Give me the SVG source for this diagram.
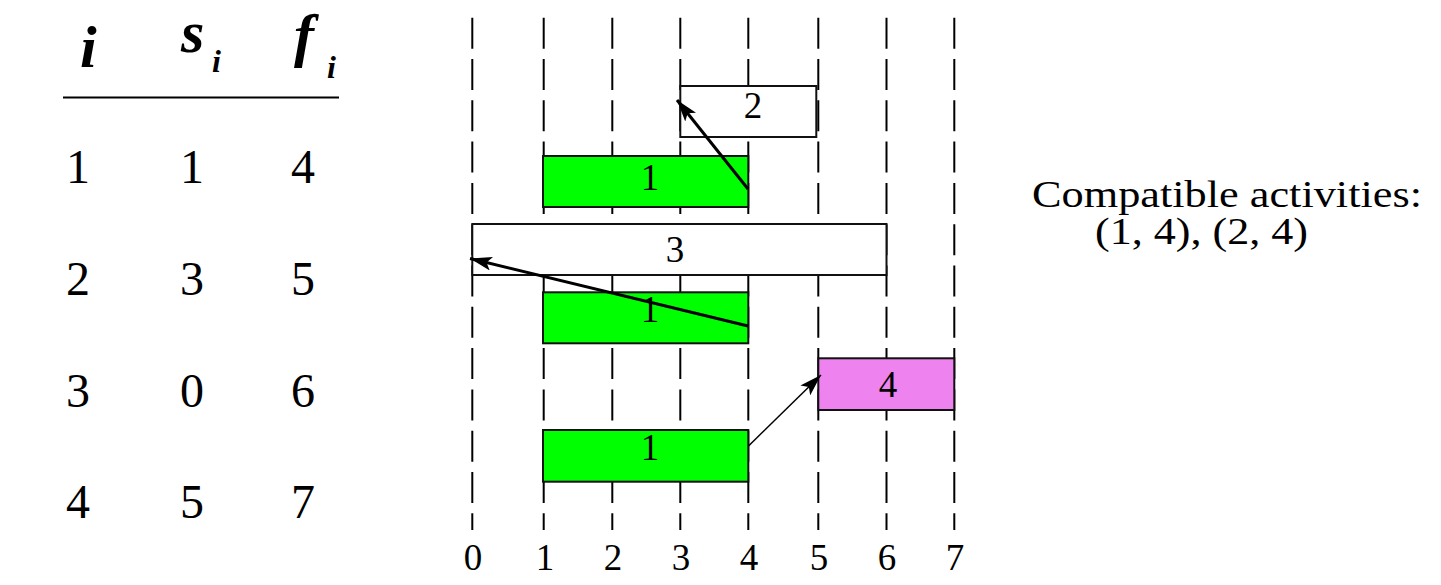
<svg xmlns="http://www.w3.org/2000/svg" width="1441" height="585" viewBox="0 0 1441 585" font-family="'Liberation Serif', 'DejaVu Serif', 'Noto Serif', serif">
<style>
text{font-family:"Liberation Serif","DejaVu Serif","Noto Serif",serif;fill:#000}
.hd{font-weight:bold;font-style:italic}
.sub{font-style:italic;font-weight:bold;font-size:32px}
.num{font-size:48px}
.lbl{font-size:37px;text-anchor:middle}
.grid{stroke:#000;stroke-width:2;stroke-dasharray:31 10.3}
.box{stroke:#111;stroke-width:2}
.g{fill:#00ff00}
.w{fill:#fff}
.v{fill:#ee82ee}
.arr{stroke:#000;fill:none}
</style>
<defs>
<marker id="ah" markerUnits="userSpaceOnUse" markerWidth="24" markerHeight="14" refX="22" refY="7" orient="auto">
<path d="M0,0 L22,7 L0,14 L5,7 Z" fill="#000"/>
</marker>
</defs>
<rect width="1441" height="585" fill="#fff"/>
<g id="table">
<text class="hd" x="80" y="67" font-size="60">i</text>
<text class="hd" x="181" y="52" font-size="60">s</text>
<text class="sub" x="212" y="72">i</text>
<text class="hd" x="294" y="55" font-size="60">f</text>
<text class="sub" x="327" y="78">i</text>
<line x1="63" y1="97.5" x2="339" y2="97.5" stroke="#000" stroke-width="2"/>
<g class="num" text-anchor="middle">
<text x="78" y="183">1</text><text x="192" y="183">1</text><text x="303" y="183">4</text>
<text x="78" y="295">2</text><text x="192" y="295">3</text><text x="303" y="295">5</text>
<text x="78" y="407">3</text><text x="192" y="407">0</text><text x="303" y="407">6</text>
<text x="78" y="518">4</text><text x="192" y="518">5</text><text x="303" y="518">7</text>
</g>
</g>
<g id="gridlines">
<line class="grid" x1="472.3" y1="17.7" x2="472.3" y2="530"/>
<line class="grid" x1="543.7" y1="17.7" x2="543.7" y2="530"/>
<line class="grid" x1="612.3" y1="17.7" x2="612.3" y2="530"/>
<line class="grid" x1="680.3" y1="17.7" x2="680.3" y2="530"/>
<line class="grid" x1="748.3" y1="17.7" x2="748.3" y2="530"/>
<line class="grid" x1="818.3" y1="17.7" x2="818.3" y2="530"/>
<line class="grid" x1="886.5" y1="17.7" x2="886.5" y2="530"/>
<line class="grid" x1="954.3" y1="17.7" x2="954.3" y2="530"/>
</g>
<g id="axis" class="lbl">
<text x="473" y="570">0</text>
<text x="545" y="570">1</text>
<text x="613" y="570">2</text>
<text x="681" y="570">3</text>
<text x="749" y="570">4</text>
<text x="819" y="570">5</text>
<text x="887" y="570">6</text>
<text x="955" y="570">7</text>
</g>
<g id="act2"><rect class="box w" x="680.3" y="86" width="136" height="51"/><text class="lbl" x="753" y="118">2</text></g>
<g id="act1a"><rect class="box g" x="543" y="156" width="205.3" height="51"/><text class="lbl" x="650" y="190">1</text></g>
<g id="act3"><rect class="box w" x="472.3" y="224" width="414.2" height="51"/><text class="lbl" x="675" y="262">3</text></g>
<g id="act1b"><rect class="box g" x="543" y="292.3" width="205.3" height="51"/><text class="lbl" x="650" y="322">1</text></g>
<g id="act4"><rect class="box v" x="818.3" y="358.3" width="136" height="51.7"/><text class="lbl" x="888" y="397">4</text></g>
<g id="act1c"><rect class="box g" x="543" y="430" width="205.3" height="51.7"/><text class="lbl" x="650" y="460">1</text></g>
<g id="connectors">
<line class="arr" x1="748" y1="189" x2="677" y2="100" stroke-width="3" marker-end="url(#ah)"/>
<line class="arr" x1="748" y1="326" x2="470" y2="258.5" stroke-width="3" marker-end="url(#ah)"/>
<line class="arr" x1="748.5" y1="446" x2="821" y2="375" stroke-width="1.5" marker-end="url(#ah)"/>
</g>
<g id="note">
<text x="1032" y="207" font-size="37" textLength="390" lengthAdjust="spacingAndGlyphs">Compatible activities:</text>
<text x="1095" y="244" font-size="37" textLength="213" lengthAdjust="spacingAndGlyphs">(1, 4), (2, 4)</text>
</g>
</svg>
